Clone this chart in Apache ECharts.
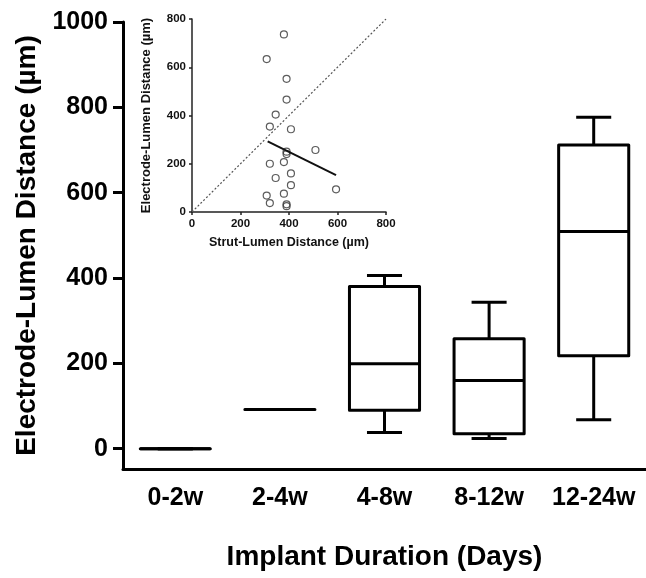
<!DOCTYPE html>
<html>
<head>
<meta charset="utf-8">
<script src="https://cdn.jsdelivr.net/npm/echarts@6/dist/echarts.min.js"></script>
<style>
  html, body { margin: 0; padding: 0; background: #fff; }
  #chart { width: 646px; height: 578px; }
</style>
</head>
<body>
<div id="chart"></div>
<script>
// main box plot
const categories = ["0-2w", "2-4w", "4-8w", "8-12w", "12-24w"];
const whiskerMin = [0, 92, 38, 24, 68];
const q1 = [0, 92, 90, 35, 218];
const median = [0, 92, 199, 160, 509];
const q3 = [0, 92, 380, 258, 712];
const whiskerMax = [0, 92, 406, 343, 777];
const mainTicks = [0, 200, 400, 600, 800, 1000];

// inset scatter
const strutLumen = [379, 308, 390, 390, 345, 321, 408, 509, 390, 390, 321, 379, 408, 345, 408, 594, 308, 379, 321, 390, 390];
const electrodeLumen = [736, 634, 552, 466, 404, 354, 343, 257, 250, 240, 200, 207, 160, 141, 111, 94, 68, 76, 37, 32, 24];
const fitX = [312, 594];
const fitY = [293, 153];
const identityX = [0, 800];
const identityY = [0, 800];

const font = "Liberation Sans, Arial, sans-serif";
const chart = echarts.init(document.getElementById("chart"));

const boxData = categories.map((c, i) => [i, whiskerMin[i], q1[i], median[i], q3[i], whiskerMax[i]]);

function renderBox(params, api) {
  const i = api.value(0);
  const cx = api.coord([i, 0])[0];
  const band = api.size([1, 0])[0];
  const half = band * 0.335;
  const cap = half / 2;
  const yMin = api.coord([i, api.value(1)])[1];
  const yQ1 = api.coord([i, api.value(2)])[1];
  const yMed = api.coord([i, api.value(3)])[1];
  const yQ3 = api.coord([i, api.value(4)])[1];
  const yMax = api.coord([i, api.value(5)])[1];
  const s = { stroke: "#000", lineWidth: 3, fill: null };
  return {
    type: "group",
    children: [
      { type: "line", shape: { x1: cx, y1: yQ3, x2: cx, y2: yMax }, style: s },
      { type: "line", shape: { x1: cx, y1: yQ1, x2: cx, y2: yMin }, style: s },
      { type: "line", shape: { x1: cx - cap, y1: yMax, x2: cx + cap, y2: yMax }, style: s },
      { type: "line", shape: { x1: cx - cap, y1: yMin, x2: cx + cap, y2: yMin }, style: s },
      {
        type: "rect",
        shape: { x: cx - half, y: yQ3, width: half * 2, height: yQ1 - yQ3 },
        style: { stroke: "#000", lineWidth: 3, fill: "#fff", lineJoin: "round" },
      },
      { type: "line", shape: { x1: cx - half, y1: yMed, x2: cx + half, y2: yMed }, style: s },
    ],
  };
}

const option = {
  animation: false,
  backgroundColor: "#fff",
  grid: [
    { left: 123, top: 22, width: 524, height: 447 },
    { left: 192, top: 19, width: 194, height: 193 },
  ],
  xAxis: [
    {
      gridIndex: 0,
      type: "category",
      data: categories,
      name: "Implant Duration (Days)",
      nameLocation: "middle",
      nameGap: 74,
      nameTextStyle: { fontFamily: font, fontWeight: "bold", fontSize: 28, color: "#000" },
      axisLine: { onZero: false, lineStyle: { color: "#000", width: 3 } },
      axisTick: { alignWithLabel: true, length: 11, lineStyle: { color: "#000", width: 3 } },
      axisLabel: { interval: 0, fontFamily: font, fontWeight: "bold", fontSize: 25, color: "#000", margin: 17 },
      splitLine: { show: false },
    },
    {
      gridIndex: 1,
      type: "value",
      min: 0,
      max: 800,
      interval: 200,
      name: "Strut-Lumen Distance (µm)",
      nameLocation: "middle",
      nameGap: 24,
      nameTextStyle: { fontFamily: font, fontWeight: "bold", fontSize: 12.5, color: "#111" },
      axisLine: { lineStyle: { color: "#222", width: 1.5 } },
      axisTick: { length: 3, lineStyle: { color: "#222", width: 1.5 } },
      axisLabel: { fontFamily: font, fontWeight: "bold", fontSize: 11.5, color: "#111", margin: 6 },
      splitLine: { show: false },
    },
  ],
  yAxis: [
    {
      gridIndex: 0,
      type: "value",
      min: -47.5,
      max: 1000,
      name: "Electrode-Lumen Distance (µm)",
      nameLocation: "middle",
      nameGap: 82,
      nameTextStyle: { fontFamily: font, fontWeight: "bold", fontSize: 28, color: "#000" },
      axisLine: { show: true, lineStyle: { color: "#000", width: 3 } },
      axisTick: { show: true, length: 10, customValues: mainTicks, lineStyle: { color: "#000", width: 3 } },
      axisLabel: {
        fontFamily: font, fontWeight: "bold", fontSize: 25, color: "#000", margin: 15,
        customValues: mainTicks,
        formatter: (v) => String(v),
      },
      splitLine: { show: false },
    },
    {
      gridIndex: 1,
      type: "value",
      min: 0,
      max: 800,
      interval: 200,
      name: "Electrode-Lumen Distance (µm)",
      nameLocation: "middle",
      nameGap: 39,
      nameTextStyle: { fontFamily: font, fontWeight: "bold", fontSize: 13, color: "#111" },
      axisLine: { show: true, lineStyle: { color: "#222", width: 1.5 } },
      axisTick: { show: true, length: 3, lineStyle: { color: "#222", width: 1.5 } },
      axisLabel: { fontFamily: font, fontWeight: "bold", fontSize: 11.5, color: "#111", margin: 6 },
      splitLine: { show: false },
    },
  ],
  series: [
    {
      type: "custom",
      xAxisIndex: 0,
      yAxisIndex: 0,
      data: boxData,
      encode: { x: 0, y: [1, 2, 3, 4, 5] },
      renderItem: renderBox,
      clip: false,
      silent: true,
    },
    {
      type: "line",
      xAxisIndex: 1,
      yAxisIndex: 1,
      data: identityX.map((x, i) => [x, identityY[i]]),
      showSymbol: false,
      lineStyle: { color: "#555", width: 1.2, type: [2, 2] },
      silent: true,
    },
    {
      type: "scatter",
      xAxisIndex: 1,
      yAxisIndex: 1,
      data: strutLumen.map((x, i) => [x, electrodeLumen[i]]),
      symbol: "circle",
      symbolSize: 7,
      itemStyle: { color: "rgba(255,255,255,0)", borderColor: "#333", borderWidth: 1.2 },
      silent: true,
    },
    {
      type: "line",
      xAxisIndex: 1,
      yAxisIndex: 1,
      data: fitX.map((x, i) => [x, fitY[i]]),
      showSymbol: false,
      lineStyle: { color: "#111", width: 2 },
      silent: true,
    },
  ],
};

chart.setOption(option);
</script>
</body>
</html>
